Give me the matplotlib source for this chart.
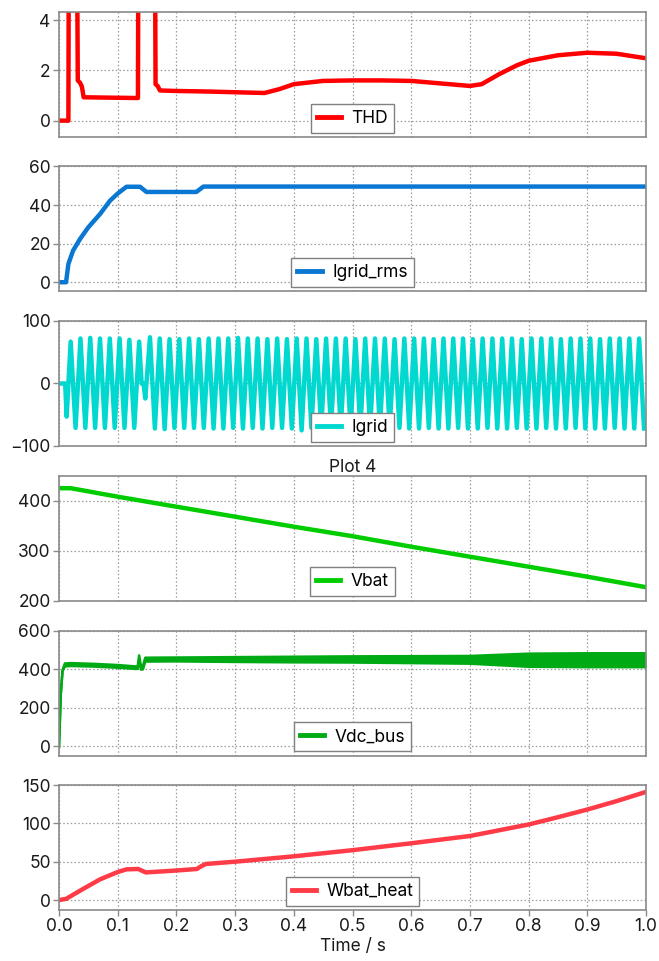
import numpy as np
import matplotlib
matplotlib.use("Agg")
import matplotlib.pyplot as plt

plt.rcParams['font.family'] = ['Inter', 'DejaVu Sans']

# ---------------- data ----------------
x_ticks = [0.0, 0.1, 0.2, 0.3, 0.4, 0.5, 0.6, 0.7, 0.8, 0.9, 1.0]

# THD (values above the axis limit are clipped in the picture)
thd_t = [0, 0.0160, 0.0170, 0.0300, 0.0320, 0.0360, 0.0390, 0.0420, 0.1000, 0.1345,
         0.1355, 0.1630, 0.1645, 0.1680, 0.1720, 0.2000, 0.2500, 0.3000, 0.3500, 0.3750,
         0.4000, 0.4500, 0.5000, 0.5500, 0.6000, 0.6500, 0.7000, 0.7200, 0.7500, 0.7800,
         0.8000, 0.8500, 0.9000, 0.9500, 1.0000]
thd_v = [0, 0, 10, 10, 1.6, 1.5, 1.35, 0.93, 0.91, 0.9,
         10, 10, 1.45, 1.38, 1.2, 1.18, 1.16, 1.13, 1.1, 1.25,
         1.45, 1.58, 1.6, 1.6, 1.58, 1.48, 1.38, 1.45, 1.85, 2.2,
         2.38, 2.6, 2.7, 2.66, 2.48]

# Igrid_rms
irms_t = [0, 0.012, 0.016, 0.024, 0.036, 0.050, 0.070, 0.087, 0.100, 0.115,
          0.138, 0.149, 0.234, 0.246, 1.0]
irms_v = [0, 0, 9.5, 16.4, 22.5, 28.5, 35.4, 42.3, 46.0, 49.5,
          49.5, 46.8, 46.8, 49.6, 49.6]

# Igrid: extremes of the 60 Hz waveform
igrid_freq = 60.0
igrid_pre_t = [0, 0.0105, 0.0130]
igrid_pre_v = [0, 0, -53]
igrid_a_t0 = 0.0199           # first positive peak, first run
igrid_a_peaks = [67, 72, 73, 72, 72, 72, 70, 67]
igrid_a_troughs = [-71, -71, -71, -71, -71, -71, -71]
igrid_gap_t = [0.1408, 0.1440, 0.1470]
igrid_gap_v = [0, 0, -24]
igrid_b_t0 = 0.1550           # first positive peak after restart
igrid_b_peaks = [74, 72, 71, 71, 72, 71, 72, 72, 72, 73,
                 72, 72, 71, 72, 71, 72, 72, 71, 72, 72,
                 72, 71, 72, 72, 72, 71, 72, 72, 72, 71,
                 72, 72, 72, 71, 72, 72, 72, 72, 71, 72,
                 72, 72, 71, 72, 72, 72, 71, 72, 72, 72, 72]
igrid_b_troughs = [-72, -73, -71, -71, -71, -71, -72, -72, -71, -72,
                   -71, -72, -71, -71, -72, -75, -71, -72, -71, -72,
                   -71, -72, -72, -71, -72, -71, -72, -72, -71, -72,
                   -72, -71, -72, -72, -71, -72, -72, -71, -72, -72,
                   -71, -72, -72, -71, -72, -72, -72, -71, -72, -72, -72]

# Vbat
vbat_t = [0, 0.02, 0.1, 0.2, 0.3, 0.4, 0.5, 0.6, 0.7, 0.8, 0.9, 1.0]
vbat_v = [425, 425, 408, 388, 368, 348, 329, 308, 288, 268, 248, 227]

# Vdc_bus (lower / upper edge of the ripple band)
vdc_t = [0, 0.003, 0.006, 0.010, 0.020, 0.060, 0.100, 0.130, 0.1340, 0.1365,
         0.1400, 0.1430, 0.1470, 0.200, 0.300, 0.400, 0.500, 0.600, 0.700, 0.750,
         0.800, 0.900, 1.000]
vdc_lo = [0, 270, 390, 415, 417, 414, 408, 402, 402, 440,
          398, 400, 440, 441, 438, 436, 435, 432, 429, 421,
          413, 411, 411]
vdc_hi = [0, 270, 395, 430, 432, 428, 422, 415, 415, 472,
          408, 418, 460, 461, 463, 465, 467, 468, 469, 475,
          481, 483, 483]

# Wbat_heat
wb_t = [0, 0.012, 0.04, 0.07, 0.1, 0.115, 0.135, 0.142, 0.148, 0.2,
        0.235, 0.242, 0.25, 0.3, 0.4, 0.5, 0.6, 0.7, 0.8, 0.85, 0.9, 0.95, 1.0]
wb_v = [0, 1.5, 14, 27, 36.5, 40, 40.5, 38, 36, 38.5,
        40.5, 44, 47, 50, 57, 65, 74, 83.5, 98.5, 108, 118, 129, 141]

# ---------------- build Igrid polyline ----------------
def run(t0, peaks, troughs):
    ts, vs = [], []
    half = 0.5 / igrid_freq
    for i in range(max(len(peaks), len(troughs))):
        if i < len(peaks):
            ts.append(t0 + 2 * i * half); vs.append(peaks[i])
        if i < len(troughs):
            ts.append(t0 + (2 * i + 1) * half); vs.append(troughs[i])
    return ts, vs

a_t, a_v = run(igrid_a_t0, igrid_a_peaks, igrid_a_troughs)
b_t, b_v = run(igrid_b_t0, igrid_b_peaks, igrid_b_troughs)
ig_t = igrid_pre_t + a_t + igrid_gap_t + b_t
ig_v = igrid_pre_v + a_v + igrid_gap_v + b_v

# ---------------- figure ----------------
W, H = 659, 961
fig = plt.figure(figsize=(W / 100, H / 100), dpi=100)

left_px, width_px = 59, 587
tops = [12, 166.5, 321, 475.7, 630.7, 785]
h_px = 125

grey = '#8a8a8a'
lw = 3.2

panels = [
    dict(name='THD', color='#ff0000', ylim=(-0.65, 4.32), yt=[0, 2, 4]),
    dict(name='Igrid_rms', color='#0a78d2', ylim=(-4.8, 60), yt=[0, 20, 40, 60]),
    dict(name='Igrid', color='#00d8d0', ylim=(-100, 100), yt=[-100, 0, 100]),
    dict(name='Vbat', color='#00cc00', ylim=(200, 450), yt=[200, 300, 400]),
    dict(name='Vdc_bus', color='#00aa14', ylim=(-48, 600), yt=[0, 200, 400, 600]),
    dict(name='Wbat_heat', color='#ff3b47', ylim=(-13, 150), yt=[0, 50, 100, 150]),
]

axes = []
for i, p in enumerate(panels):
    ax = fig.add_axes([left_px / W, 1 - (tops[i] + h_px) / H, width_px / W, h_px / H])
    axes.append(ax)
    ax.set_xlim(0, 1)
    ax.set_ylim(*p['ylim'])
    ax.set_xticks(x_ticks)
    ax.set_yticks(p['yt'])
    ax.grid(True, linestyle=(0, (1.2, 1.8)), color='#9a9a9a', linewidth=0.9)
    ax.set_axisbelow(True)
    for s in ax.spines.values():
        s.set_color(grey)
        s.set_linewidth(1.2)
    ax.tick_params(axis='both', direction='out', length=4, width=1, color=grey,
                   labelsize=12.5, labelcolor='#1a1a1a', pad=2)
    if i < 5:
        ax.tick_params(axis='x', labelbottom=False, length=0)

# draw series
axes[0].plot(thd_t, thd_v, color=panels[0]['color'], lw=lw, label='THD')
axes[1].plot(irms_t, irms_v, color=panels[1]['color'], lw=lw, label='Igrid_rms')
axes[2].plot(ig_t, ig_v, color=panels[2]['color'], lw=lw, label='Igrid')
axes[3].plot(vbat_t, vbat_v, color=panels[3]['color'], lw=lw, label='Vbat')
c = panels[4]['color']
axes[4].fill_between(vdc_t, vdc_lo, vdc_hi, color=c, lw=0)
axes[4].plot(vdc_t, vdc_lo, color=c, lw=1.8)
axes[4].plot(vdc_t, vdc_hi, color=c, lw=1.8, label='Vdc_bus')
axes[5].plot(wb_t, wb_v, color=panels[5]['color'], lw=lw, label='Wbat_heat')

for ax in axes:
    leg = ax.legend(loc='lower center', fontsize=12.5, frameon=True, fancybox=False,
                    framealpha=1, edgecolor='#808080', borderpad=0.35,
                    handlelength=1.4, handletextpad=0.6, borderaxespad=0.25)
    leg.get_frame().set_linewidth(1.0)
    for l in leg.get_lines():
        l.set_linewidth(3.5)

axes[3].set_title('Plot 4', fontsize=12.5, pad=3, color='#1a1a1a')
axes[5].set_xlabel('Time / s', fontsize=12.5, labelpad=2, color='#1a1a1a')

fig.savefig('out.png', dpi=100, facecolor='white')
